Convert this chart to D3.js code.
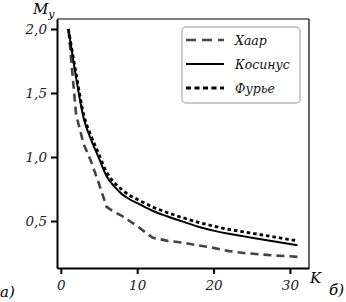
<!DOCTYPE html>
<html>
<head>
<meta charset="utf-8">
<script src="https://cdn.jsdelivr.net/npm/d3@7"></script>
<style>
  body { margin: 0; background: #fff; }
</style>
</head>
<body>
<script>
var K = [1, 2, 3, 4, 5, 6, 7, 8, 9, 10, 12, 14, 16, 18, 20, 22, 24, 26, 28, 30, 31];
var haar    = [2.0, 1.33, 1.10, 0.96, 0.79, 0.61, 0.57, 0.54, 0.50, 0.46, 0.37, 0.345, 0.33, 0.31, 0.29, 0.265, 0.25, 0.24, 0.23, 0.225, 0.22];
var cosine  = [2.0, 1.62, 1.30, 1.13, 0.99, 0.85, 0.77, 0.71, 0.67, 0.64, 0.58, 0.535, 0.495, 0.455, 0.425, 0.40, 0.38, 0.36, 0.34, 0.32, 0.31];
var fourier = [2.0, 1.65, 1.33, 1.16, 1.02, 0.88, 0.80, 0.745, 0.70, 0.67, 0.61, 0.565, 0.525, 0.49, 0.46, 0.435, 0.415, 0.395, 0.375, 0.355, 0.345];
var xTicks = [0, 10, 20, 30];
var yTicks = [0.5, 1.0, 1.5, 2.0];
var names = ["Хаар", "Косинус", "Фурье"];

var FONT = "DejaVu Serif";

var margin = {top: 19, left: 57};
var w = 252, h = 249;

var svg = d3.select("body").append("svg")
    .attr("width", 346)
    .attr("height", 302)
    .attr("font-family", FONT)
    .attr("font-style", "italic");

var g = svg.append("g")
    .attr("transform", "translate(" + margin.left + "," + margin.top + ")");

var x = d3.scaleLinear().domain([-0.5, 32.5]).range([0, w]);
var y = d3.scaleLinear().domain([0.133, 2.078]).range([h, 0]);

// frame
g.append("line").attr("x1", 0).attr("x2", w).attr("y1", 0).attr("y2", 0)
    .attr("stroke", "#000").attr("stroke-width", 1.2);
g.append("line").attr("x1", w).attr("x2", w).attr("y1", 0).attr("y2", h)
    .attr("stroke", "#000").attr("stroke-width", 1.2);

var ax = g.append("g")
    .attr("transform", "translate(0," + h + ")")
    .call(d3.axisBottom(x).tickValues(xTicks).tickSize(6).tickSizeOuter(0).tickPadding(6));
var ay = g.append("g")
    .call(d3.axisLeft(y).tickValues(yTicks).tickSize(6).tickSizeOuter(0).tickPadding(4)
        .tickFormat(function(d) { return d3.format(".1f")(d).replace(".", ","); }));

[ax, ay].forEach(function(a) {
  a.attr("font-family", FONT).attr("font-size", 13.5);
  a.select(".domain").attr("stroke-width", 2);
  a.selectAll(".tick line").attr("stroke-width", 2);
  a.selectAll(".tick text").attr("fill", "#222");
});

var line = function(vals, curve) {
  return d3.line()
      .curve(curve)
      .x(function(d, i) { return x(K[i]); })
      .y(function(d) { return y(d); })(vals);
};

var styles = [
  {data: haar, stroke: "#444", width: 2.6, dash: "8,5", curve: d3.curveLinear},
  {data: cosine, stroke: "#000", width: 2, dash: null, curve: d3.curveMonotoneX},
  {data: fourier, stroke: "#000", width: 2.8, dash: "3.5,3", curve: d3.curveMonotoneX}
];

styles.forEach(function(s) {
  g.append("path")
      .attr("d", line(s.data, s.curve))
      .attr("fill", "none")
      .attr("stroke", s.stroke)
      .attr("stroke-width", s.width)
      .attr("stroke-dasharray", s.dash);
});

// legend
var leg = svg.append("g").attr("transform", "translate(182,27)");
leg.append("rect")
    .attr("width", 118).attr("height", 76)
    .attr("rx", 4)
    .attr("fill", "#fff")
    .attr("stroke", "#bbb")
    .attr("stroke-width", 1.5);

styles.forEach(function(s, i) {
  var yy = 13 + i * 24;
  leg.append("line")
      .attr("x1", 4).attr("x2", 42)
      .attr("y1", yy).attr("y2", yy)
      .attr("stroke", s.stroke)
      .attr("stroke-width", s.width)
      .attr("stroke-dasharray", i == 0 ? "10,6" : (i == 2 ? "5,3.5" : null));
  leg.append("text")
      .attr("x", 53).attr("y", yy + 5)
      .attr("font-size", 12.5)
      .attr("fill", "#111")
      .text(names[i]);
});

// labels
var my = svg.append("text").attr("x", 33).attr("y", 14).attr("font-size", 15);
my.append("tspan").text("M");
my.append("tspan").attr("dy", 4).attr("font-size", 11).text("y");

svg.append("text").attr("x", 310).attr("y", 283).attr("font-size", 15).text("K");
svg.append("text").attr("x", 0).attr("y", 297).attr("font-size", 15).text("а)");
svg.append("text").attr("x", 329).attr("y", 295).attr("font-size", 15).text("б)");
</script>
</body>
</html>
